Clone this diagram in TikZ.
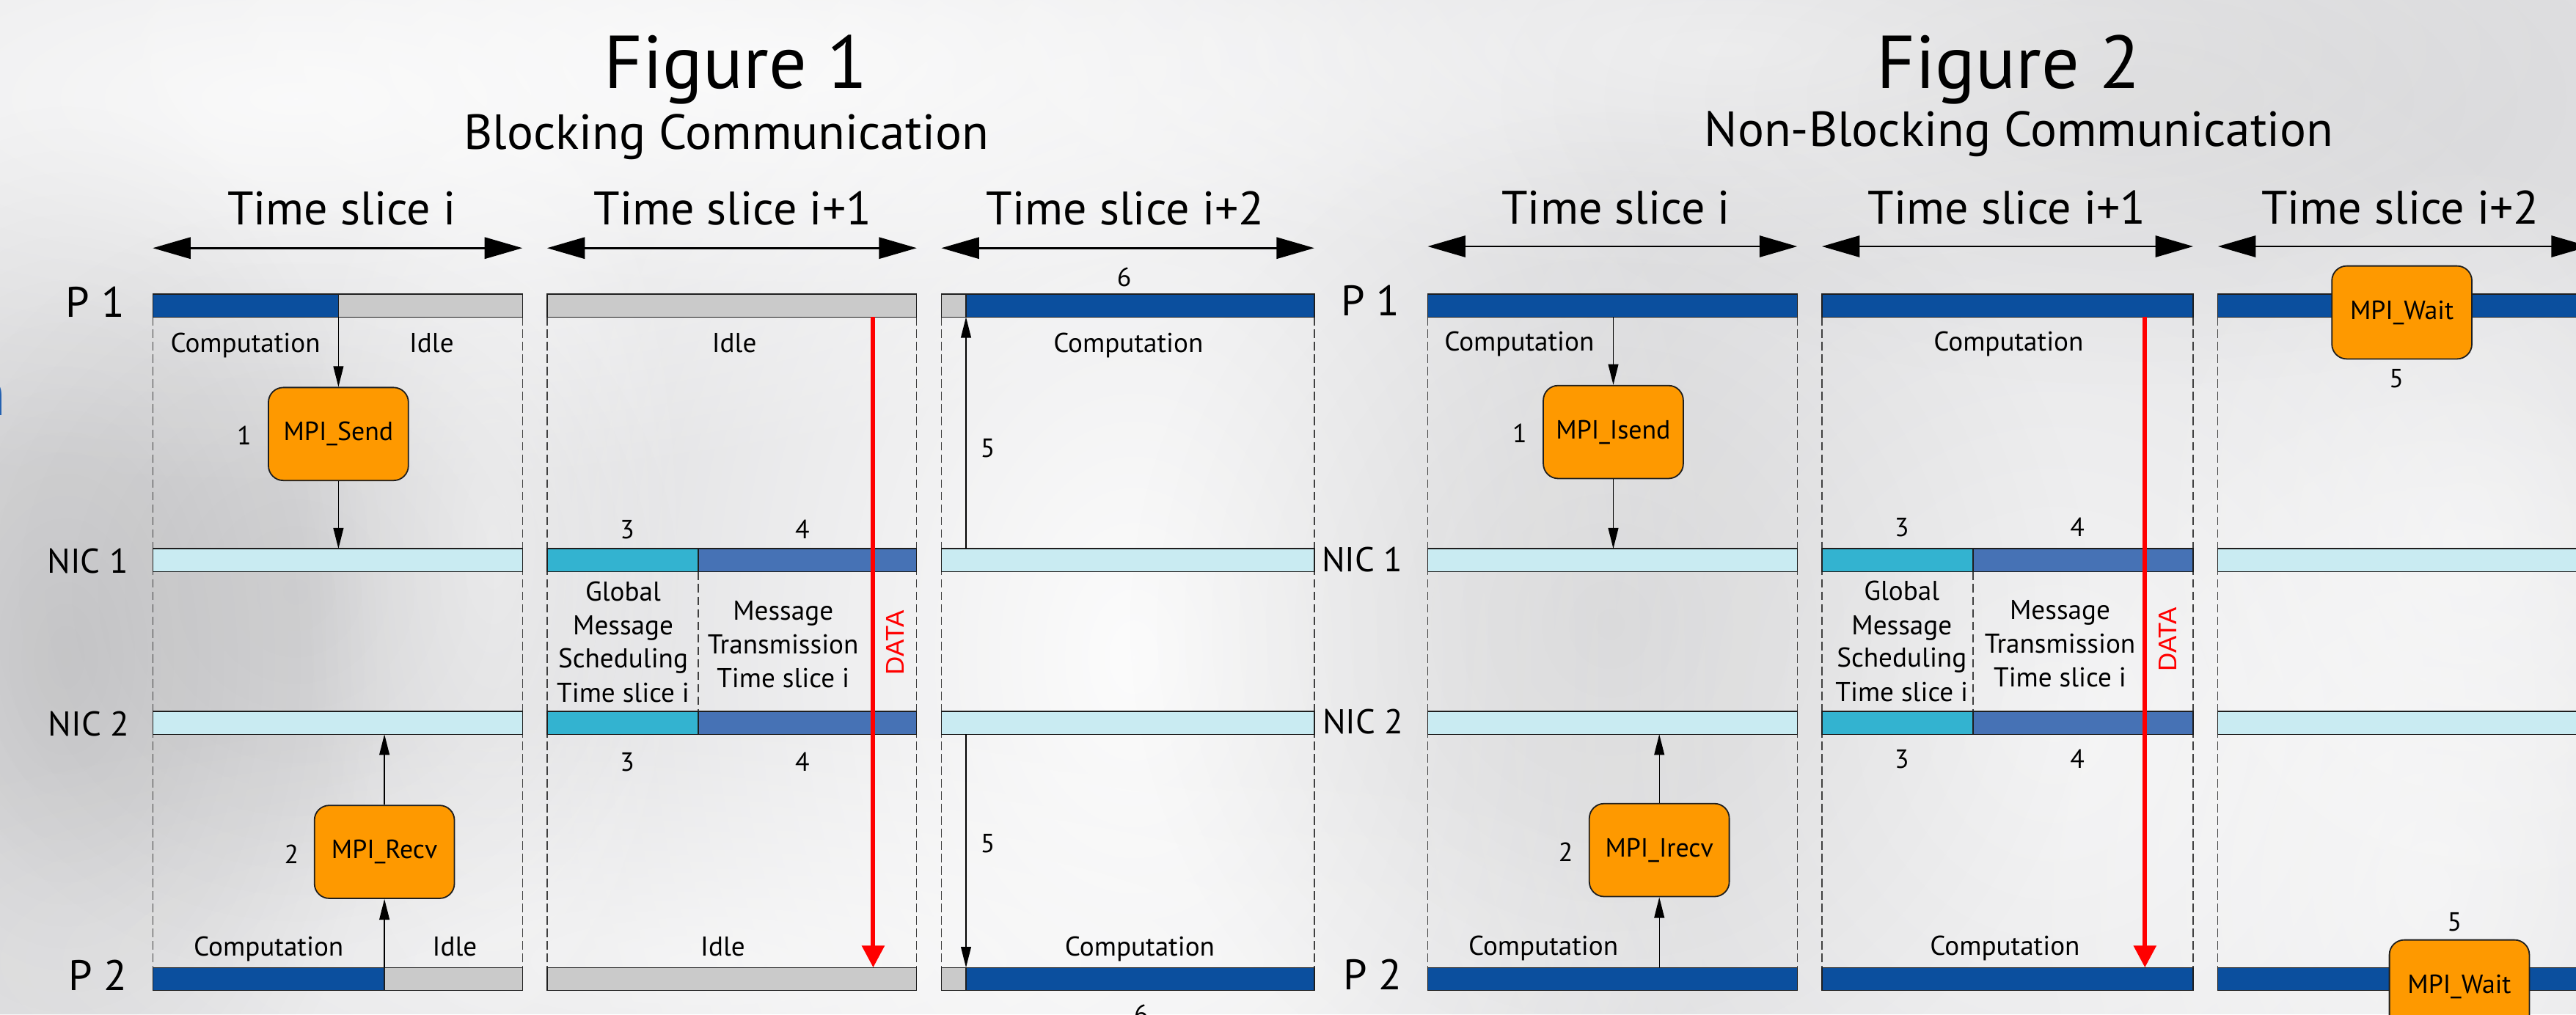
\documentclass[tikz,border=0pt]{standalone}
\usepackage{fontspec}
\setmainfont{PT Sans}
\newfontfamily\datafont{Liberation Sans}
\usetikzlibrary{arrows.meta,fadings}

\definecolor{pblue}{HTML}{0B4F9E}
\definecolor{idlegray}{HTML}{CACACA}
\definecolor{niclight}{HTML}{C9EBF2}
\definecolor{schedcyan}{HTML}{33B3D0}
\definecolor{transblue}{HTML}{4672B5}
\definecolor{mpiorange}{HTML}{FE9900}
\definecolor{datared}{HTML}{FF0000}
\definecolor{bgbase}{HTML}{E1E1E3}
\definecolor{edgeink}{HTML}{1E1E1E}
\definecolor{glyphblue}{HTML}{2360B0}

\tikzfading[name=softblob, inner color=transparent!0, outer color=transparent!100]

\tikzset{
  barline/.style={draw=edgeink, line width=0.3pt},
  slicesep/.style={draw=black!75, line width=0.3pt, dash pattern=on 2.6pt off 1.2pt},
  spanarrow/.style={{Triangle[length=11.5pt,width=6.5pt]}-{Triangle[length=11.5pt,width=6.5pt]}, line width=0.6pt, draw=black},
  callarrow/.style={-{Triangle[length=6.3pt,width=3.1pt]}, line width=0.3pt, draw=black},
  dataarrow/.style={-{Triangle[length=6.7pt,width=6.7pt]}, line width=1.35pt, draw=datared},
  mpibox/.style={draw=edgeink, line width=0.4pt, fill=mpiorange, rounded corners=4.5pt,
    minimum width=42.6pt, minimum height=28.3pt, inner sep=0pt, font=\fontsize{8}{9.6}\selectfont},
  lbl/.style={inner sep=0pt, anchor=base},
  figtitle/.style={lbl, font=\fontsize{22.8}{27}\selectfont},
  figsub/.style={lbl, font=\fontsize{15}{18}\selectfont},
  slicelab/.style={lbl, font=\fontsize{14.3}{16}\selectfont},
  proclab/.style={lbl, font=\fontsize{13}{15}\selectfont},
  niclab/.style={lbl, font=\fontsize{10.5}{12}\selectfont},
  phase/.style={lbl, font=\fontsize{8.3}{10}\selectfont},
  numlab/.style={lbl, font=\fontsize{8}{10}\selectfont},
  datalab/.style={inner sep=0pt, rotate=90, text=datared, font=\datafont\fontsize{7.8}{9}\selectfont},
  blob/.style={path fading=softblob, opacity=#1},
}

% one coloured stretch of a timeline bar: x1, x2, y1, y2, fill colour
\newcommand\slicebar[5]{\path[barline,fill=#5] (#1,#3) rectangle (#2,#4);}

\begin{document}
\begin{tikzpicture}[x=0.5pt,y=-0.5pt]
\path[use as bounding box] (0,0) rectangle (1568,617.5);
\clip (0,0) rectangle (1568,617.5);

% soft grey backdrop with lighter and darker swirls
\fill[bgbase] (0,0) rectangle (1568,617.5);
\fill[white, blob=0.8] (180,60) ellipse (340pt and 120pt);
\fill[white, blob=0.7] (470,40) ellipse (220pt and 70pt);
\fill[white, blob=0.9] (690,400) ellipse (180pt and 270pt);
\fill[white, blob=0.6] (430,585) ellipse (320pt and 80pt);
\fill[white, blob=0.55] (300,330) ellipse (60pt and 160pt);
\fill[white, blob=0.65] (1250,440) ellipse (210pt and 230pt);
\fill[white, blob=0.55] (1050,30) ellipse (260pt and 70pt);
\fill[white, blob=0.55] (1480,540) ellipse (130pt and 160pt);
\fill[white, blob=0.45] (1500,330) ellipse (100pt and 120pt);
\fill[black, blob=0.1] (40,400) ellipse (100pt and 170pt);
\fill[black, blob=0.06] (180,360) ellipse (120pt and 120pt);
\fill[black, blob=0.07] (980,380) ellipse (150pt and 160pt);
\fill[black, blob=0.05] (1300,60) ellipse (200pt and 90pt);

% fragment of a glyph at the left margin
\node[lbl, anchor=base east, text=glyphblue, font=\fontsize{19.6}{22}\selectfont] (edgeglyph) at (4,253) {n};

% ===================== Figure 1: blocking =====================
\node[figtitle] (f1title) at (448,54) {Figure 1};
\node[figsub] (f1sub) at (442,90.8) {Blocking Communication};

\node[slicelab] (f1t1) at (208,137) {Time slice i};
\node[slicelab] (f1t2) at (446,137) {Time slice i+1};
\node[slicelab] (f1t3) at (685,137) {Time slice i+2};
\coordinate (f1a1l) at (93,151);  \coordinate (f1a1r) at (318,151);
\coordinate (f1a2l) at (333,151); \coordinate (f1a2r) at (558,151);
\coordinate (f1a3l) at (573,151); \coordinate (f1a3r) at (800,151);
\draw[spanarrow] (f1a1l) -- (f1a1r);
\draw[spanarrow] (f1a2l) -- (f1a2r);
\draw[spanarrow] (f1a3l) -- (f1a3r);

\node[proclab] (f1p1lab) at (58,193) {P 1};
\node[niclab] (f1nic1lab) at (53.5,349) {NIC 1};
\node[niclab] (f1nic2lab) at (54,447.8) {NIC 2};
\node[proclab] (f1p2lab) at (59.6,603) {P 2};

\foreach \x in {93,318,333,558,573,800} \draw[slicesep] (\x,193) -- (\x,589);
\draw[slicesep] (425,348) -- (425,433);

\slicebar{93}{206}{179}{193}{pblue}
\slicebar{206}{318}{179}{193}{idlegray}
\slicebar{333}{558}{179}{193}{idlegray}
\slicebar{573}{588}{179}{193}{idlegray}
\slicebar{588}{800}{179}{193}{pblue}

\slicebar{93}{318}{334}{348}{niclight}
\slicebar{333}{425}{334}{348}{schedcyan}
\slicebar{425}{558}{334}{348}{transblue}
\slicebar{573}{800}{334}{348}{niclight}

\slicebar{93}{318}{433}{447}{niclight}
\slicebar{333}{425}{433}{447}{schedcyan}
\slicebar{425}{558}{433}{447}{transblue}
\slicebar{573}{800}{433}{447}{niclight}

\slicebar{93}{234}{589}{603}{pblue}
\slicebar{234}{318}{589}{603}{idlegray}
\slicebar{333}{558}{589}{603}{idlegray}
\slicebar{573}{588}{589}{603}{idlegray}
\slicebar{588}{800}{589}{603}{pblue}

\node[phase] (f1c1) at (149.4,214.5) {Computation};
\node[phase] (f1i1) at (262.7,214.5) {Idle};
\node[phase] (f1i2) at (447,214.5) {Idle};
\node[phase] (f1c2) at (686.8,214.5) {Computation};
\node[phase] (f1c3) at (163.5,582) {Computation};
\node[phase] (f1i3) at (276.8,582) {Idle};
\node[phase] (f1i4) at (440,582) {Idle};
\node[phase] (f1c4) at (693.8,582) {Computation};

\node[phase] (f1g1) at (379.3,365.7) {Global};
\node[phase] (f1g2) at (379.3,386.6) {Message};
\node[phase] (f1g3) at (379.3,406.5) {Scheduling};
\node[phase] (f1g4) at (379.3,427.4) {Time slice i};
\node[phase] (f1m1) at (476.7,377.5) {Message};
\node[phase] (f1m2) at (476.7,398) {Transmission};
\node[phase] (f1m3) at (476.7,418.4) {Time slice i};

\node[numlab] (f1n6a) at (684.3,174.4) {6};
\node[numlab] (f1n1) at (148.6,270.8) {1};
\node[numlab] (f1n5a) at (601.2,278.3) {5};
\node[numlab] (f1n3a) at (381.8,327.8) {3};
\node[numlab] (f1n4a) at (488.4,327.8) {4};
\node[numlab] (f1n3b) at (381.8,469.3) {3};
\node[numlab] (f1n4b) at (488.4,469.3) {4};
\node[numlab] (f1n5b) at (601.2,518.8) {5};
\node[numlab] (f1n2) at (177.4,525.6) {2};
\node[numlab] (f1n6b) at (694.5,623) {6};

\node[mpibox] (f1send) at (206,264.2) {MPI\_Send};
\node[mpibox] (f1recv) at (234,518.6) {MPI\_Recv};

\coordinate (f1sendsrc) at (206,193);
\coordinate (f1sendnic) at (206,334);
\coordinate (f1recvsrc) at (234,589);
\coordinate (f1recvnic) at (234,447);
\coordinate (f1p1done) at (588,193);
\coordinate (f1nic1done) at (588,334);
\coordinate (f1nic2done) at (588,447);
\coordinate (f1p2done) at (588,589);
\coordinate (f1datasrc) at (531.5,193);
\coordinate (f1datadst) at (531.5,589);

\draw[callarrow] (f1sendsrc) -- (f1send.north);
\draw[callarrow] (f1send.south) -- (f1sendnic);
\draw[callarrow] (f1recvsrc) -- (f1recv.south);
\draw[callarrow] (f1recv.north) -- (f1recvnic);
\draw[callarrow] (f1nic1done) -- (f1p1done);
\draw[callarrow] (f1nic2done) -- (f1p2done);
\draw[dataarrow] (f1datasrc) -- (f1datadst);
\node[datalab] (f1data) at (545,391.4) {DATA};

% ===================== Figure 2: non-blocking =====================
\node[figtitle] (f2title) at (1222.5,53.8) {Figure 2};
\node[figsub] (f2sub) at (1229,89) {Non-Blocking Communication};

\node[slicelab] (f2t1) at (983.6,136.2) {Time slice i};
\node[slicelab] (f2t2) at (1221.6,136.2) {Time slice i+1};
\node[slicelab] (f2t3) at (1461,136.2) {Time slice i+2};
\coordinate (f2a1l) at (869,150);  \coordinate (f2a1r) at (1094,150);
\coordinate (f2a2l) at (1109,150); \coordinate (f2a2r) at (1335,150);
\coordinate (f2a3l) at (1350,150); \coordinate (f2a3r) at (1576,150);
\draw[spanarrow] (f2a1l) -- (f2a1r);
\draw[spanarrow] (f2a2l) -- (f2a2r);
\draw[spanarrow] (f2a3l) -- (f2a3r);

\node[proclab] (f2p1lab) at (834,192.3) {P 1};
\node[niclab] (f2nic1lab) at (829.2,348) {NIC 1};
\node[niclab] (f2nic2lab) at (829.7,446.7) {NIC 2};
\node[proclab] (f2p2lab) at (835.3,602.3) {P 2};

\foreach \x in {869,1094,1109,1335,1350} \draw[slicesep] (\x,193) -- (\x,589);
\draw[slicesep] (1201,348) -- (1201,433);

\slicebar{869}{1094}{179}{193}{pblue}
\slicebar{1109}{1335}{179}{193}{pblue}
\slicebar{1350}{1576}{179}{193}{pblue}

\slicebar{869}{1094}{334}{348}{niclight}
\slicebar{1109}{1201}{334}{348}{schedcyan}
\slicebar{1201}{1335}{334}{348}{transblue}
\slicebar{1350}{1576}{334}{348}{niclight}

\slicebar{869}{1094}{433}{447}{niclight}
\slicebar{1109}{1201}{433}{447}{schedcyan}
\slicebar{1201}{1335}{433}{447}{transblue}
\slicebar{1350}{1576}{433}{447}{niclight}

\slicebar{869}{1094}{589}{603}{pblue}
\slicebar{1109}{1335}{589}{603}{pblue}
\slicebar{1350}{1576}{589}{603}{pblue}

\node[phase] (f2c1) at (924.8,213.5) {Computation};
\node[phase] (f2c2) at (1222.6,213.5) {Computation};
\node[phase] (f2c3) at (939.4,581.5) {Computation};
\node[phase] (f2c4) at (1220.4,581.5) {Computation};

\node[phase] (f2g1) at (1157.6,365.4) {Global};
\node[phase] (f2g2) at (1157.6,386.3) {Message};
\node[phase] (f2g3) at (1157.6,406.2) {Scheduling};
\node[phase] (f2g4) at (1157.6,427.1) {Time slice i};
\node[phase] (f2m1) at (1253.9,377) {Message};
\node[phase] (f2m2) at (1253.9,397.5) {Transmission};
\node[phase] (f2m3) at (1253.9,418) {Time slice i};

\node[numlab] (f2n1) at (925,269.5) {1};
\node[numlab] (f2n3a) at (1157.6,326.7) {3};
\node[numlab] (f2n4a) at (1264.5,326.7) {4};
\node[numlab] (f2n3b) at (1157.6,467.6) {3};
\node[numlab] (f2n4b) at (1264.5,467.6) {4};
\node[numlab] (f2n2) at (953,524.4) {2};
\node[numlab] (f2n5a) at (1458.7,235.9) {5};
\node[numlab] (f2n5b) at (1494,566.6) {5};

\node[mpibox] (f2isend) at (982,263) {MPI\_Isend};
\node[mpibox] (f2irecv) at (1010,517.5) {MPI\_Irecv};
\node[mpibox] (f2wait1) at (1462,190.2) {MPI\_Wait};
\node[mpibox] (f2wait2) at (1497,600.5) {MPI\_Wait};

\coordinate (f2sendsrc) at (982,193);
\coordinate (f2sendnic) at (982,334);
\coordinate (f2recvsrc) at (1010,589);
\coordinate (f2recvnic) at (1010,447);
\coordinate (f2datasrc) at (1305.6,193);
\coordinate (f2datadst) at (1305.6,589);

\draw[callarrow] (f2sendsrc) -- (f2isend.north);
\draw[callarrow] (f2isend.south) -- (f2sendnic);
\draw[callarrow] (f2recvsrc) -- (f2irecv.south);
\draw[callarrow] (f2irecv.north) -- (f2recvnic);
\draw[dataarrow] (f2datasrc) -- (f2datadst);
\node[datalab] (f2data) at (1319.6,389.3) {DATA};
\end{tikzpicture}
\end{document}
